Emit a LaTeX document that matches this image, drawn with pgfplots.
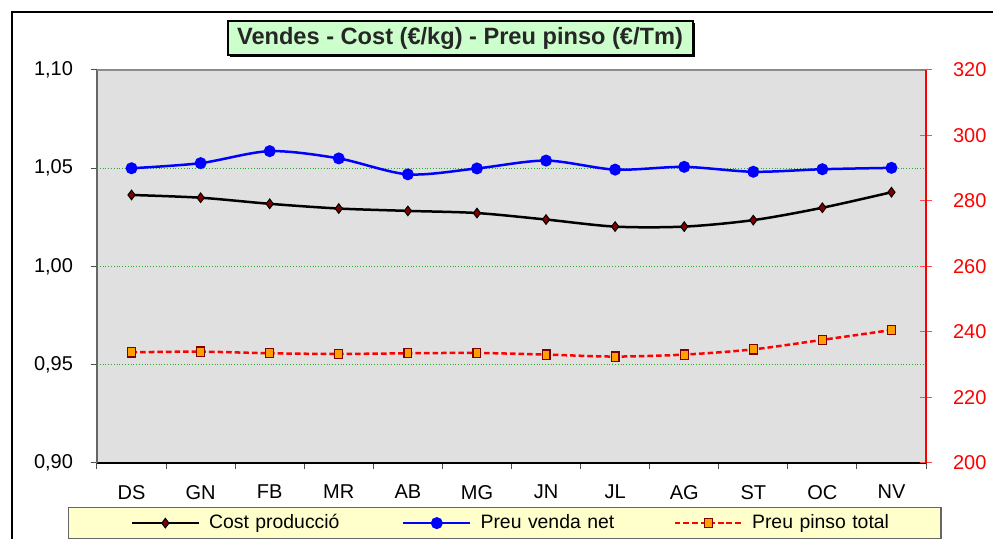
\documentclass[border=0pt]{standalone}
\usepackage{pgfplots}
\pgfplotsset{compat=1.18}
\usepackage{pgfplotstable}
\usepackage{fontspec}
\setmainfont{Liberation Sans}
\definecolor{plotbg}{RGB}{224,224,224}
\definecolor{titlebg}{RGB}{204,255,204}
\definecolor{legbg}{RGB}{255,255,204}
\definecolor{darkred}{RGB}{128,0,0}
\definecolor{gridgreen}{RGB}{40,170,40}
\definecolor{markorange}{RGB}{255,160,0}

\pgfplotstableread{
x cost venda pinso
0  1.0364 1.0500 233.8
1  1.0350 1.0526 234.0
2  1.0319 1.0587 233.5
3  1.0295 1.0550 233.3
4  1.0283 1.0469 233.5
5  1.0272 1.0499 233.6
6  1.0239 1.0539 233.1
7  1.0203 1.0493 232.5
8  1.0203 1.0507 233.1
9  1.0236 1.0482 234.7
10 1.0299 1.0495 237.6
11 1.0378 1.0502 240.6
}\datatable

\pgfplotsset{
  coststyle/.style={black, line width=1.25pt, smooth, mark=diamond*, mark size=2.4pt,
    mark options={fill=darkred, draw=black, line width=0.5pt, solid}},
  vendastyle/.style={blue, line width=1.25pt, smooth, mark=*, mark size=2.35pt,
    mark options={fill=blue, draw=blue, solid}},
  pinsostyle/.style={red, line width=1.25pt, smooth, dash pattern=on 2.8pt off 1.5pt,
    mark=square*, mark size=2.3pt,
    mark options={fill=markorange, draw=darkred, line width=0.6pt, solid, xscale=0.85}},
}

\begin{document}
\begin{tikzpicture}
\useasboundingbox (0,0) rectangle (496.5pt,-269.5pt);
% outer frame
\draw[black, line width=1pt] (6pt,-300pt) -- (6pt,-5.85pt) -- (520pt,-5.85pt);
% title
\fill[black] (115pt,-11.5pt) rectangle (347.5pt,-28.5pt);
\draw[fill=titlebg, line width=1pt] (114pt,-10.5pt) rectangle (346.5pt,-27.5pt);
\node[font=\fontsize{11.8}{14}\selectfont\bfseries, text=black!85] at (230pt,-19pt)
  {Vendes - Cost (€/kg) - Preu pinso (€/Tm)};

\begin{axis}[
  at={(48.5pt,-231.5pt)}, anchor=south west,
  scale only axis, width=414.5pt, height=196.5pt,
  xmin=-0.5, xmax=11.5, ymin=0.9, ymax=1.1,
  axis x line*=bottom, axis y line*=left,
  x axis line style={black, line width=0.6pt, -},
  y axis line style={black!60, line width=0.8pt, -},
  axis background/.style={fill=plotbg},
  xtick={-0.5,0.5,...,11.5},
  x tick label as interval,
  xticklabels={DS,GN,FB,MR,AB,MG,JN,JL,AG,ST,OC,NV},
  ytick={0.9,0.95,1,1.05,1.1},
  ymajorgrids,
  grid style={gridgreen, densely dotted, line width=0.5pt},
  tick align=outside, major tick length=3pt,
  tick style={black!70, line width=0.5pt},
  yticklabel style={xshift=-5.5pt, /pgf/number format/.cd, fixed, fixed zerofill, precision=2, use comma, assume math mode=true},
  xticklabel style={yshift=-4.5pt},
  tick label style={font=\fontsize{10}{12}\selectfont},
  clip=false,
]
\addplot[coststyle] table[x=x,y=cost]{\datatable};
\addplot[vendastyle] table[x=x,y=venda]{\datatable};
\draw[black!45, line width=1pt] (rel axis cs:0,1) -- (rel axis cs:1,1);
\end{axis}

\begin{axis}[
  at={(48.5pt,-231.5pt)}, anchor=south west,
  scale only axis, width=414.5pt, height=196.5pt,
  xmin=-0.5, xmax=11.5, ymin=200, ymax=320,
  ytick={200,220,...,320},
  axis x line=none, axis y line*=right,
  y axis line style={red, line width=0.8pt, -},
  ytick style={red!70, line width=0.5pt},
  tick align=center, major tick length=6pt,
  yticklabel style={red, xshift=7pt, /pgf/number format/assume math mode=true},
  tick label style={font=\fontsize{10}{12}\selectfont},
  clip=false,
  legend columns=3,
  legend cell align=left,
  legend image code/.code={\path (0pt,0pt); \draw[mark repeat=2, mark phase=2, #1] plot coordinates {(7.5pt,0pt) (24.25pt,0pt) (41pt,0pt)};},
  legend style={
    at={(-0.035,-0.112)}, anchor=north west,
    fill=legbg, draw=black!60, line width=0.6pt,
    inner xsep=23.5pt, inner ysep=2.75pt,
    font=\fontsize{9.7}{11}\selectfont,
    /tikz/every odd column/.append style={column sep=4.5pt},
    /tikz/every even column/.append style={column sep=18pt},
    nodes={inner sep=0pt, text width=71pt, align=left, text height=7.5pt, text depth=2.5pt},
  },
]
\addlegendimage{coststyle}
\addlegendentry{Cost producció}
\addlegendimage{vendastyle}
\addlegendentry{Preu venda net}
\addplot[pinsostyle] table[x=x,y=pinso]{\datatable};
\addlegendentry{Preu pinso total}
\end{axis}
\end{tikzpicture}
\end{document}
